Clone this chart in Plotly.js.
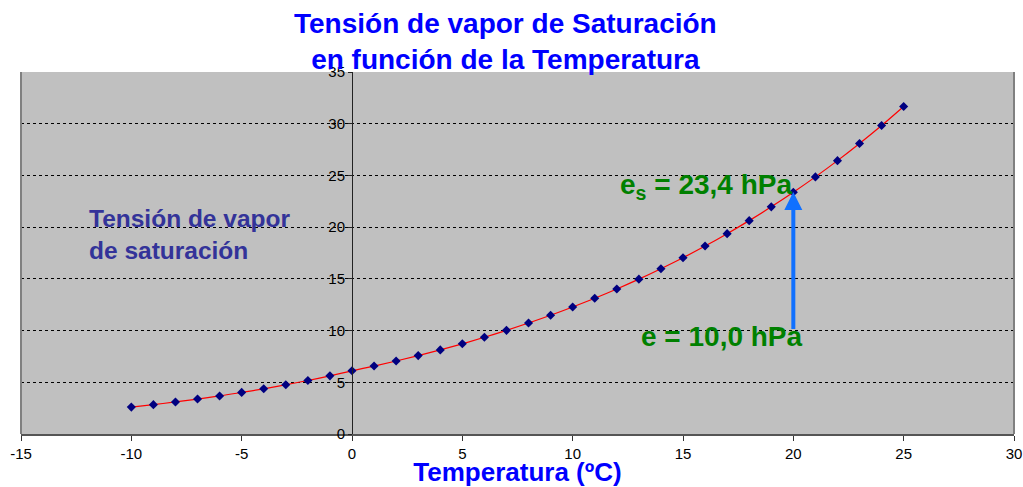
<!DOCTYPE html>
<html>
<head>
<meta charset="utf-8">
<script src="https://cdn.plot.ly/plotly-3.0.1.min.js"></script>
<style>html,body{margin:0;padding:0;background:#fff;}#chart{width:1023px;height:487px;}</style>
</head>
<body>
<div id="chart"></div>
<script>
const temperatures = [-10,-9,-8,-7,-6,-5,-4,-3,-2,-1,0,1,2,3,4,5,6,7,8,9,10,11,12,13,14,15,16,17,18,19,20,21,22,23,24,25];
const pressures = [2.60,2.84,3.10,3.38,3.68,4.02,4.37,4.76,5.17,5.62,6.11,6.57,7.06,7.58,8.13,8.72,9.35,10.02,10.73,11.48,12.28,13.12,14.02,14.97,15.98,17.04,18.17,19.37,20.63,21.96,23.37,24.86,26.43,28.09,29.83,31.67];
const xTicks = [-15,-10,-5,0,5,10,15,20,25,30];
const yTicks = [0,5,10,15,20,25,30,35];
const arrowT = 20;
const arrowFrom = 10.0;
const arrowTo = 23.4;

const FONT = 'Liberation Sans, Arial, sans-serif';

const trace = {
  x: temperatures, y: pressures, type: 'scatter', mode: 'lines+markers',
  line: {color: '#ff0000', width: 1.2, shape: 'spline'},
  marker: {symbol: 'diamond', size: 7, color: '#000080'},
  hoverinfo: 'x+y', showlegend: false
};

const layout = {
  width: 1023, height: 487,
  margin: {l: 21, r: 9, t: 72, b: 53},
  paper_bgcolor: '#ffffff', plot_bgcolor: '#c0c0c0',
  font: {family: FONT, size: 15, color: '#000'},
  title: {
    text: 'Tensión de vapor de Saturación<br>en función de la Temperatura',
    font: {family: FONT, size: 28, color: '#0000ff', weight: 'bold'},
    x: 0.494, xanchor: 'center', y: 0.933, yanchor: 'middle'
  },
  xaxis: {
    range: [-15, 30], tickvals: xTicks, ticktext: xTicks.map(String),
    showgrid: false, zeroline: false, showline: true, linecolor: '#555', linewidth: 2,
    ticks: 'outside', ticklen: 5, tickcolor: '#333', automargin: false,
    title: {text: 'Temperatura (ºC)', standoff: 0,
      font: {family: FONT, size: 26, color: '#0000ff', weight: 'bold'}}
  },
  yaxis: {
    range: [0, 35], tickvals: yTicks, ticktext: yTicks.map(String),
    anchor: 'free', position: 1/3,
    showgrid: true, gridcolor: '#000', griddash: 'dot', gridwidth: 1,
    zeroline: false, showline: true, linecolor: '#222', linewidth: 1,
    ticks: 'outside', ticklen: 4, tickcolor: '#222'
  },
  shapes: [
    {type: 'line', xref: 'paper', yref: 'paper', x0: 0, x1: 0, y0: 0, y1: 1, line: {color: '#808080', width: 2}},
    {type: 'line', xref: 'paper', yref: 'paper', x0: 1, x1: 1, y0: 0, y1: 1, line: {color: '#808080', width: 2}}
  ],
  annotations: [
    {x: arrowT, y: arrowTo, ax: arrowT, ay: arrowFrom, axref: 'x', ayref: 'y', xref: 'x', yref: 'y',
     showarrow: true, arrowhead: 2, arrowsize: 0.9, arrowwidth: 4, arrowcolor: '#1070ff', text: ''},
    {x: 16.04, y: 23.9, xref: 'x', yref: 'y', showarrow: false,
     text: 'e<sub>s</sub> = 23,4 hPa',
     font: {family: FONT, size: 28, color: '#008000', weight: 'bold'}},
    {x: 16.75, y: 9.4, xref: 'x', yref: 'y', showarrow: false,
     text: 'e = 10,0 hPa',
     font: {family: FONT, size: 28, color: '#008000', weight: 'bold'}},
    {x: -12.0, y: 19.3, xref: 'x', yref: 'y', xanchor: 'left', align: 'left', showarrow: false,
     text: 'Tensión de vapor<br>de saturación',
     font: {family: FONT, size: 24.5, color: '#333399', weight: 'bold'}}
  ]
};

Plotly.newPlot('chart', [trace], layout, {displayModeBar: false, staticPlot: true});
</script>
</body>
</html>
